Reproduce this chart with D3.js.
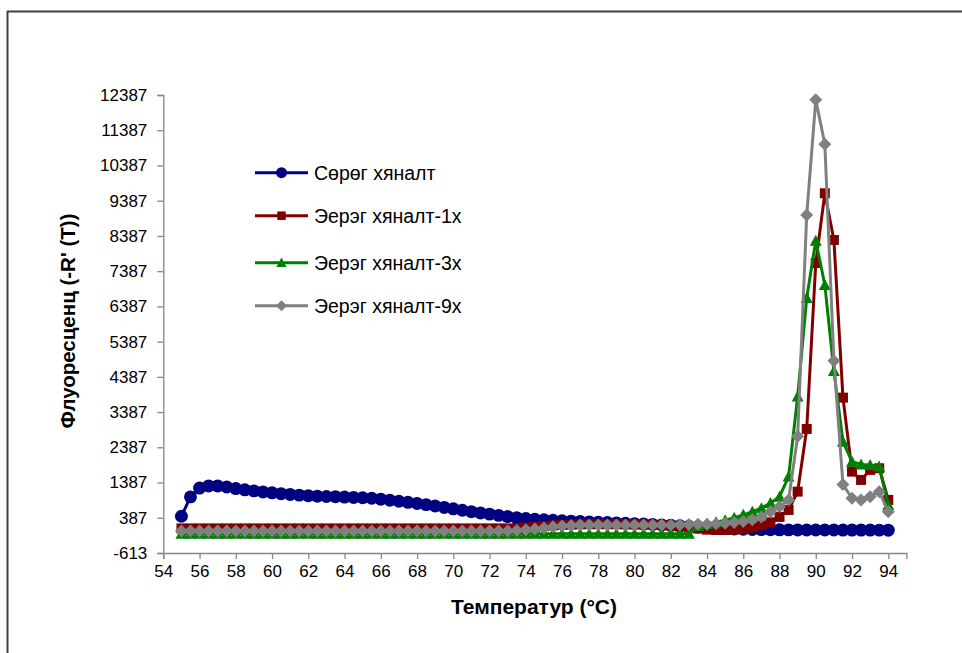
<!DOCTYPE html>
<html><head><meta charset="utf-8">
<script src="https://cdn.jsdelivr.net/npm/d3@7"></script>
<style>
body{margin:0;background:#fff;}
svg text{font-family:"Liberation Sans",Arial,sans-serif;}
</style></head>
<body><svg id="c" width="962" height="653"></svg>
<script>
const temps = [55,55.5,56,56.5,57,57.5,58,58.5,59,59.5,60,60.5,61,61.5,62,62.5,63,63.5,64,64.5,65,65.5,66,66.5,67,67.5,68,68.5,69,69.5,70,70.5,71,71.5,72,72.5,73,73.5,74,74.5,75,75.5,76,76.5,77,77.5,78,78.5,79,79.5,80,80.5,81,81.5,82,82.5,83,83.5,84,84.5,85,85.5,86,86.5,87,87.5,88,88.5,89,89.5,90,90.5,91,91.5,92,92.5,93,93.5,94];

const negControl = [430,980,1230,1290,1290,1260,1215,1180,1150,1120,1095,1070,1050,1030,1015,1000,990,985,975,965,955,940,915,885,855,825,795,760,720,680,640,600,560,525,490,455,420,390,365,345,330,315,300,290,280,270,260,250,240,230,220,208,196,184,172,158,144,128,112,96,82,70,60,54,50,47,45,43,42,41,40,40,39,38,38,37,37,36,35];

const pos1x = [85,85,85,85,85,85,85,85,85,85,85,85,85,85,85,85,85,85,85,85,85,85,85,85,85,85,85,85,85,85,85,85,85,85,85,85,85,95,110,130,150,170,185,195,200,205,205,205,205,200,200,195,190,180,165,140,110,80,50,40,40,50,70,110,170,260,411,609,1129,2908,7619,9597,8272,3797,1697,1461,1745,1792,893];

const pos3x = [-70,-70,-70,-70,-70,-70,-70,-70,-70,-70,-70,-70,-70,-70,-70,-70,-70,-70,-70,-70,-70,-70,-70,-70,-70,-70,-70,-70,-70,-70,-70,-70,-70,-70,-70,-70,-70,-70,-70,-70,-70,-70,-70,-70,-70,-70,-70,-70,-70,-70,-70,-70,-70,-70,-70,-70,-70,150,210,260,320,390,470,561,660,808,987,1555,3826,6626,8250,6995,4550,2548,1980,1900,1886,1839,751];

const pos9x = [15,15,15,15,15,15,15,15,15,15,15,15,15,15,15,15,15,15,15,15,15,15,15,15,15,15,15,15,15,15,15,15,15,15,15,15,15,25,45,70,100,130,155,170,180,185,185,185,185,185,185,185,185,185,185,190,195,200,205,215,230,250,280,330,410,561,703,893,2700,8980,12250,10990,4846,1330,942,893,987,1129,561];

const seriesNames = ["Сөрөг хяналт","Эерэг хяналт-1х","Эерэг хяналт-3х","Эерэг хяналт-9х"];
const xTicks = [54,56,58,60,62,64,66,68,70,72,74,76,78,80,82,84,86,88,90,92,94];
const yTicks = [-613,387,1387,2387,3387,4387,5387,6387,7387,8387,9387,10387,11387,12387];
const xTitle = "Температур (°C)";
const yTitle = "Флуоресценц (-R' (T))";

const seriesData = [negControl, pos1x, pos3x, pos9x];
const colors = ["#000080","#800000","#008000","#808080"];
const shapes = ["circle","square","triangle","diamond"];

const svg = d3.select("#c");
svg.append("rect").attr("x",7.5).attr("y",11.5).attr("width",1000).attr("height",700)
  .attr("fill","none").attr("stroke","#404040").attr("stroke-width",2);

const x = d3.scaleLinear().domain([54,95]).range([163.3,906.4]);
const y = d3.scaleLinear().domain([-613,12387]).range([553,95]);

const axisColor = "#868686";
const gx = svg.append("g").attr("transform","translate(0,553)")
  .call(d3.axisBottom(x).tickValues(xTicks).tickSize(6).tickPadding(6).tickFormat(d3.format("d")));
const gy = svg.append("g").attr("transform","translate(163.3,0)")
  .call(d3.axisLeft(y).tickValues(yTicks).tickSize(6).tickPadding(10).tickFormat(d=>String(d)));
[gx,gy].forEach(g=>{
  g.select(".domain").attr("stroke",axisColor).attr("stroke-width",1.3);
  g.selectAll(".tick line").attr("stroke",axisColor).attr("stroke-width",1.3);
  g.selectAll(".tick text").attr("fill","#000").style("font-size","17px")
   .style("font-family","'Liberation Sans',Arial,sans-serif");
});

function symbolPath(shape){
  if(shape==="circle") return d3.symbol(d3.symbolCircle, 132)();
  if(shape==="square") return d3.symbol(d3.symbolSquare, 100)();
  if(shape==="triangle") return "M0,-6L6,5L-6,5Z";
  return "M0,-6.5L6.5,0L0,6.5L-6.5,0Z";
}

const line = d3.line().x((d,i)=>x(temps[i])).y(d=>y(d));
seriesData.forEach((vals,si)=>{
  const g = svg.append("g");
  g.append("path").attr("d",line(vals)).attr("fill","none")
    .attr("stroke",colors[si]).attr("stroke-width",3).attr("stroke-linejoin","round");
  g.selectAll("path.m").data(vals).enter().append("path").attr("class","m")
    .attr("d",symbolPath(shapes[si]))
    .attr("transform",(d,i)=>`translate(${x(temps[i])},${y(d)})`)
    .attr("fill",colors[si]);
});

// legend
const legY = [172.7,215.7,262.7,305.7];
seriesNames.forEach((n,i)=>{
  const g = svg.append("g");
  g.append("line").attr("x1",255).attr("x2",308).attr("y1",legY[i]).attr("y2",legY[i])
    .attr("stroke",colors[i]).attr("stroke-width",3);
  g.append("path").attr("d",symbolPath(shapes[i]))
    .attr("transform",`translate(281.5,${legY[i]}) scale(0.85)`).attr("fill",colors[i]);
  g.append("text").attr("x",314).attr("y",legY[i]+7).text(n)
    .style("font-size","19.5px").attr("fill","#000");
});

svg.append("text").attr("x",534).attr("y",614).attr("text-anchor","middle")
  .style("font-size","21px").style("font-weight","bold").text(xTitle);
svg.append("text").attr("transform","translate(75,321) rotate(-90)").attr("text-anchor","middle")
  .style("font-size","20.5px").style("font-weight","bold").text(yTitle);
</script></body></html>
